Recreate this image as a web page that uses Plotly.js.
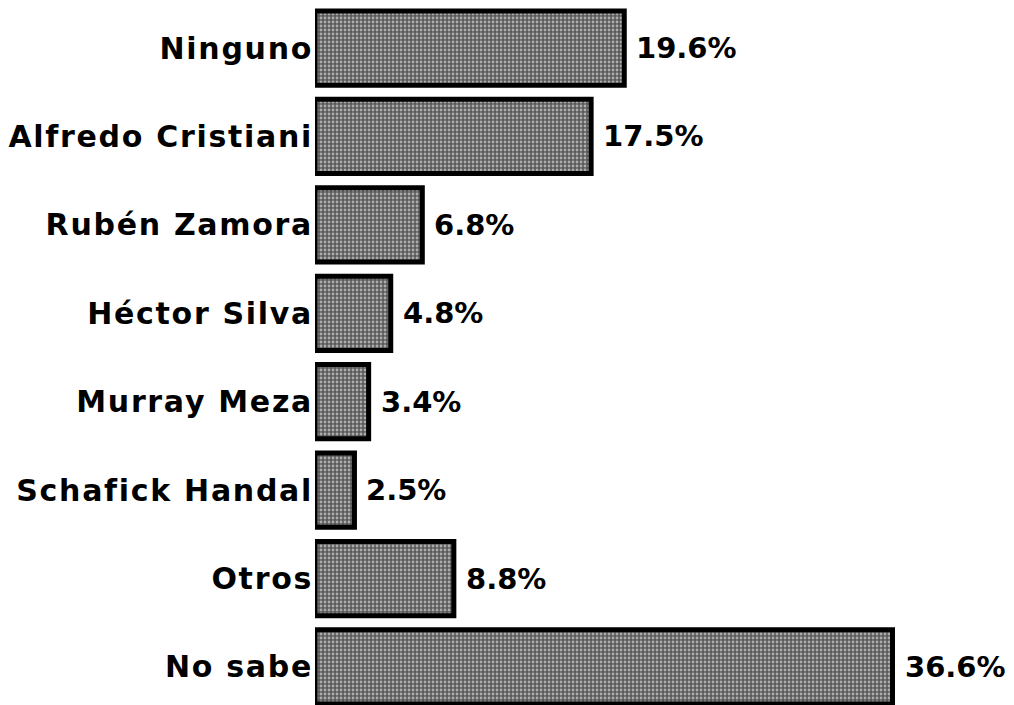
<!DOCTYPE html>
<html><head><meta charset="utf-8">
<script src="https://cdn.plot.ly/plotly-3.0.1.min.js"></script>
<style>
html,body{margin:0;padding:0;background:#fff}
#chart .ytick text{letter-spacing:1.7px}
</style>
</head><body>
<div id="chart" style="width:1014px;height:705px"></div>
<script>
const categories = ["Ninguno","Alfredo Cristiani","Rubén Zamora","Héctor Silva","Murray Meza","Schafick Handal","Otros","No sabe"];
const values = [19.6, 17.5, 6.8, 4.8, 3.4, 2.5, 8.8, 36.6];
const valueLabels = values.map(v => v.toFixed(1) + "%");

const fam = "DejaVu Sans, Arial, sans-serif";
const font = {family: fam, size: 29, color: "#000", weight: "bold"};
const tickFont = {family: fam, size: 30, color: "#000", weight: "bold"};

const trace = {
  type: "bar", orientation: "h",
  x: values, y: categories,
  width: 0.84,
  marker: {
    color: "#8c8c8c",
    pattern: {shape: ".", bgcolor: "#5a5a5a", fgcolor: "#ffffff", size: 4, solidity: 0.38, fillmode: "overlay"},
    line: {color: "#000", width: 5}
  },
  hoverinfo: "skip"
};

const annotations = categories.map((c, i) => ({
  x: values[i], y: c, xref: "x", yref: "y",
  text: valueLabels[i],
  showarrow: false, xanchor: "left", xshift: 10,
  font: font
}));

const layout = {
  width: 1014, height: 705,
  margin: {l: 315, r: 0, t: 0, b: 0},
  paper_bgcolor: "#fff", plot_bgcolor: "#fff",
  showlegend: false,
  xaxis: {range: [0, 44.3], visible: false, fixedrange: true},
  yaxis: {
    type: "category", range: [7.43, -0.543],
    showgrid: false, zeroline: false, showline: false,
    ticks: "", ticklabelstandoff: 1,
    tickfont: tickFont
  },
  annotations: annotations
};

Plotly.newPlot("chart", [trace], layout, {displayModeBar: false, staticPlot: true});
</script>
</body></html>
